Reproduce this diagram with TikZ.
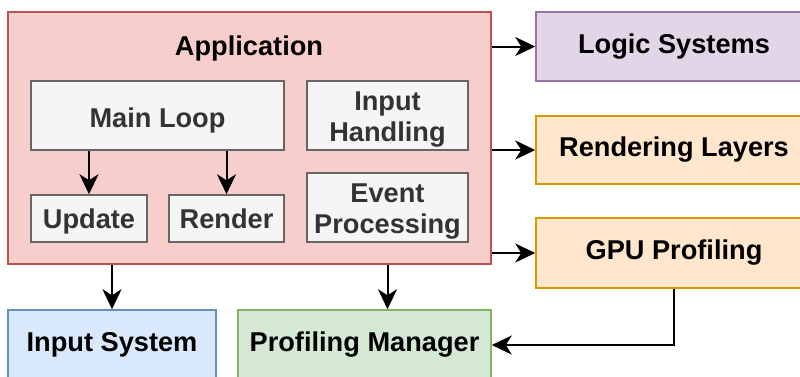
\documentclass[tikz,border=0pt]{standalone}
\usepackage{fontspec}
\setmainfont{Liberation Sans}
\usetikzlibrary{arrows.meta, positioning}

\definecolor{appFill}{HTML}{F8CECC}
\definecolor{appLine}{HTML}{B85450}
\definecolor{subFill}{HTML}{F5F5F5}
\definecolor{subLine}{HTML}{666666}
\definecolor{subText}{HTML}{333333}
\definecolor{logicFill}{HTML}{E1D5E7}
\definecolor{logicLine}{HTML}{9673A6}
\definecolor{orangeFill}{HTML}{FFE6CC}
\definecolor{orangeLine}{HTML}{D79B00}
\definecolor{blueFill}{HTML}{DAE8FC}
\definecolor{blueLine}{HTML}{6C8EBF}
\definecolor{greenFill}{HTML}{D5E8D4}
\definecolor{greenLine}{HTML}{82B366}

\begin{document}
\begin{tikzpicture}[x=1pt,y=-1pt,
    every node/.style={font=\fontsize{27.2}{31}\selectfont\bfseries,align=center,inner sep=0pt},
    flow/.style={line width=2pt,-{Stealth[length=20pt,width=19pt,inset=6pt]}}]
  \tikzstyle{boxA}=[rectangle,line width=1.5pt]
  \tikzstyle{boxS}=[boxA,draw=subLine,fill=subFill,text=subText]
  \useasboundingbox (0,0) rectangle (800,376);

  % Application
  \node[boxA, draw=appLine, fill=appFill, minimum width=483pt, minimum height=252pt] (app) at (249.5,138) {};
  \node (apptitle) at (249,48) {Application};

  % Inside the application
  \node[boxS, minimum width=253pt, minimum height=69pt, text height=29pt, text depth=6pt] (mainloop) at (157.5,115.5) {Main Loop};
  \node[boxS, minimum width=161pt, minimum height=69pt, text height=58pt, text depth=6pt] (inhandle) at (387.5,115.5) {Input\\Handling};
  \node[boxS, minimum width=161pt, minimum height=69pt, text height=58pt, text depth=6pt] (evproc) at (387.5,207.5) {Event\\Processing};
  \node[boxS, minimum width=116pt, minimum height=47pt, text height=25pt, text depth=6pt] (update) at (89,218.5) {Update};
  \node[boxS, minimum width=115pt, minimum height=47pt] (render) at (226.5,218.5) {Render};

  % Systems
  \node[boxA, draw=logicLine, fill=logicFill, minimum width=276pt, minimum height=69pt] (logic) at (674,46.5) {Logic Systems};
  \node[boxA, draw=orangeLine, fill=orangeFill, minimum width=276pt, minimum height=68pt] (layers) at (674,150) {Rendering Layers};
  \node[boxA, draw=orangeLine, fill=orangeFill, minimum width=276pt, minimum height=70pt] (gpu) at (674,253) {GPU Profiling};
  \node[boxA, draw=blueLine, fill=blueFill, minimum width=208pt, minimum height=70pt] (insys) at (112,345) {Input System};
  \node[boxA, draw=greenLine, fill=greenFill, minimum width=253pt, minimum height=70pt] (profman) at (364.5,345) {Profiling Manager};

  \draw[flow] (update |- mainloop.south) -- (update.north);
  \draw[flow] (render |- mainloop.south) -- (render.north);
  \draw[flow] (app.east |- logic.west) -- (logic.west);
  \draw[flow] (app.east |- layers.west) -- (layers.west);
  \draw[flow] (app.east |- gpu.west) -- (gpu.west);
  \draw[flow] (insys |- app.south) -- (insys.north);
  \draw[flow] (evproc |- app.south) -- (evproc |- profman.north);
  \draw[flow] (gpu.south) |- (profman.east);

\end{tikzpicture}
\end{document}
